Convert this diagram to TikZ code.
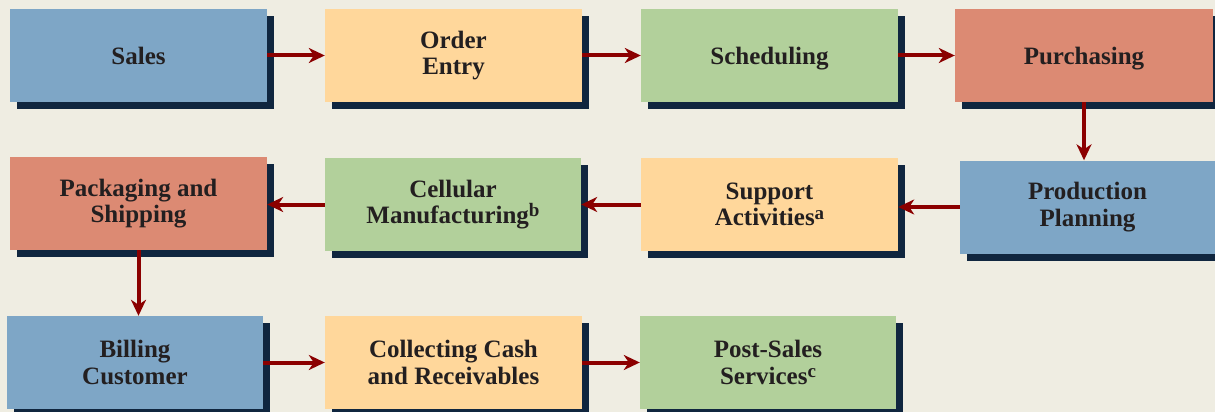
\documentclass[tikz,border=0pt]{standalone}
\usepackage{fontspec}
\setmainfont{Liberation Serif}
\usetikzlibrary{shadows,arrows.meta}
\definecolor{bgc}{HTML}{EFEDE2}
\definecolor{bluec}{HTML}{7EA6C6}
\definecolor{peachc}{HTML}{FFD79B}
\definecolor{greenc}{HTML}{B2D09B}
\definecolor{salmonc}{HTML}{DC8A73}
\definecolor{shadowc}{HTML}{10263F}
\definecolor{arrowc}{HTML}{8B0000}
\definecolor{textc}{HTML}{231F20}
\newcommand{\supr}[1]{\raisebox{0.6ex}{\fontsize{19}{19}\selectfont #1}}
\tikzset{
  box/.style={minimum width=257pt, minimum height=93pt, inner sep=0pt, align=center,
    text=textc, font=\fontsize{25}{26.5}\selectfont\bfseries,
    drop shadow={shadow xshift=7pt, shadow yshift=-7pt, fill=shadowc, opacity=1}},
  oneline/.style={text depth=0pt},
  bluebox/.style={box, fill=bluec},
  peachbox/.style={box, fill=peachc},
  greenbox/.style={box, fill=greenc},
  salmonbox/.style={box, fill=salmonc},
  flow/.style={draw=arrowc, line width=4pt, -{Stealth[length=16pt, width=15pt, inset=5pt]}}
}
\begin{document}
\begin{tikzpicture}[x=1pt, y=-1pt]
\fill[bgc] (0,0) rectangle (1215,412);
\useasboundingbox (0,0) rectangle (1215,412);
% row 1
\node[bluebox, oneline] (sales) at (138.5,55.5) {Sales};
\node[peachbox] (order) at (453.5,55.5) {Order\\Entry};
\node[greenbox, oneline] (sched) at (769.5,55.5) {Scheduling};
\node[salmonbox, oneline, minimum width=258pt] (purch) at (1084,55.5) {Purchasing};
% row 2
\node[salmonbox] (pack) at (138.5,203.5) {Packaging and\\Shipping};
\node[greenbox, minimum width=256pt] (cell) at (453,204.5) {Cellular\\Manufacturing\supr{b}};
\node[peachbox] (supp) at (769.5,204.5) {Support\\Activities\supr{a}};
\node[bluebox, minimum width=255pt] (prod) at (1087.5,207) {Production\\Planning};
% row 3
\node[bluebox, minimum width=256pt] (bill) at (135,362.5) {Billing\\Customer};
\node[peachbox] (coll) at (453.5,362.5) {Collecting Cash\\and Receivables};
\node[greenbox, minimum width=256pt] (post) at (768,362.5) {Post-Sales\\Services\supr{c}};
% connectors
\draw[flow] (sales.east) -- (order.west);
\draw[flow] (order.east) -- (sched.west);
\draw[flow] (sched.east) -- (purch.west);
\draw[flow] (purch.south) -- (purch.south |- prod.north);
\draw[flow] (prod.west) -- (prod.west -| supp.east);
\draw[flow] (supp.west) -- (supp.west -| cell.east);
\draw[flow] (cell.west) -- (cell.west -| pack.east);
\draw[flow] (pack.south) -- (pack.south |- bill.north);
\draw[flow] (bill.east) -- (coll.west);
\draw[flow] (coll.east) -- (post.west);
\end{tikzpicture}
\end{document}
